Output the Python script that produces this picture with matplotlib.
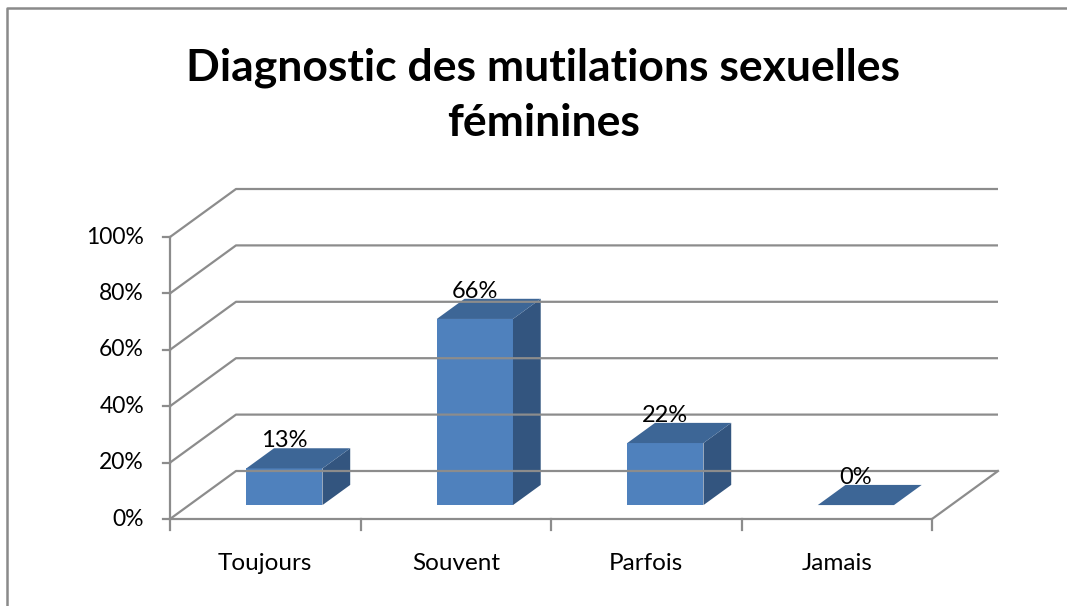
import matplotlib
matplotlib.use("Agg")
import matplotlib.pyplot as plt
from matplotlib.patches import Polygon
from matplotlib.lines import Line2D

categories = ["Toujours", "Souvent", "Parfois", "Jamais"]
values = [13, 66, 22, 0]
value_labels = ["13%", "66%", "22%", "0%"]
yticks = [0, 20, 40, 60, 80, 100]
ytick_labels = ["0%", "20%", "40%", "60%", "80%", "100%"]
title = "Diagnostic des mutilations sexuelles\nféminines"

W, H = 1067, 606
fig = plt.figure(figsize=(W / 100, H / 100), dpi=100)
ax = fig.add_axes([0, 0, 1, 1])
# pixel calibration: category unit = 190.5 px, 1% = 2.82 px
px_cat = 190.5
px_pct = 2.82
x0_px, y0_px = 170, 606 - 519
ax.set_xlim(-x0_px / px_cat, (W - x0_px) / px_cat)
ax.set_ylim(-y0_px / px_pct, (H - y0_px) / px_pct)
ax.axis("off")

DX = 66 / px_cat   # depth offset in x (category units)
DY = 48 / px_pct   # depth offset in y (percent units)
n = len(categories)

def P(x, y, d):
    return (x + DX * d, y + DY * d)

grid_c = "#8C8C8C"
lw = 1.6
# back wall gridlines and left wall diagonals
for t in yticks:
    xa, ya = P(0, t, 0)
    xb, yb = P(0, t, 1)
    xc, yc = P(n, t, 1)
    ax.plot([xa, xb, xc], [ya, yb, yc], color=grid_c, lw=lw, solid_capstyle="butt")
# floor front edge and right edge
xa, ya = P(0, 0, 0)
xb, yb = P(n, 0, 0)
xc, yc = P(n, 0, 1)
ax.plot([xa, xb, xc], [ya, yb, yc], color=grid_c, lw=lw)
# left vertical axis
ax.plot([0, 0], [0, 100], color=grid_c, lw=lw)
tick_y = 7 / px_pct
tick_x = 7 / px_cat
for t, lab in zip(yticks, ytick_labels):
    ax.plot([-tick_x, 0], [t, t], color=grid_c, lw=lw)
    ax.text(-26 / px_cat, t, lab, ha="right", va="center", fontsize=16.5,
            family="Lato", color="black")
for i in range(n + 1):
    ax.plot([i, i], [0, -tick_y - 1.5], color=grid_c, lw=lw)
for i, c in enumerate(categories):
    ax.text(i + 0.5, -44 / px_pct, c, ha="center", va="center", fontsize=17.5,
            family="Lato", color="black")

front_c = "#4F81BD"
top_c = "#3D6696"
side_c = "#33557F"
bw = 0.4
d0, d1 = 0.29, 0.71
for i, v in enumerate(values):
    xl, xr = i + 0.5 - bw / 2, i + 0.5 + bw / 2
    if v > 0:
        front = [P(xl, 0, d0), P(xr, 0, d0), P(xr, v, d0), P(xl, v, d0)]
        side = [P(xr, 0, d0), P(xr, 0, d1), P(xr, v, d1), P(xr, v, d0)]
        ax.add_patch(Polygon(front, closed=True, fc=front_c, ec="none"))
        ax.add_patch(Polygon(side, closed=True, fc=side_c, ec="none"))
    top = [P(xl, v, d0), P(xr, v, d0), P(xr, v, d1), P(xl, v, d1)]
    ax.add_patch(Polygon(top, closed=True, fc=top_c, ec="none"))
    lx, ly = P(i + 0.5, v, d0)
    ax.text(lx, v + DY * d1 + 0.3, value_labels[i], ha="center", va="baseline",
            fontsize=17, family="Lato", color="black")

fig.text(0.5 + 10 / W, 1 - 95 / H, title, ha="center", va="center",
         fontsize=32, fontweight="bold", family="Lato", linespacing=1.45)

# outer border (top and left edges)
fig.add_artist(Line2D([7 / W, 7 / W, 1], [0, 1 - 8 / H, 1 - 8 / H],
                      transform=fig.transFigure, color="#8A8A8A", lw=1.8))

fig.savefig("out.png", dpi=100)
